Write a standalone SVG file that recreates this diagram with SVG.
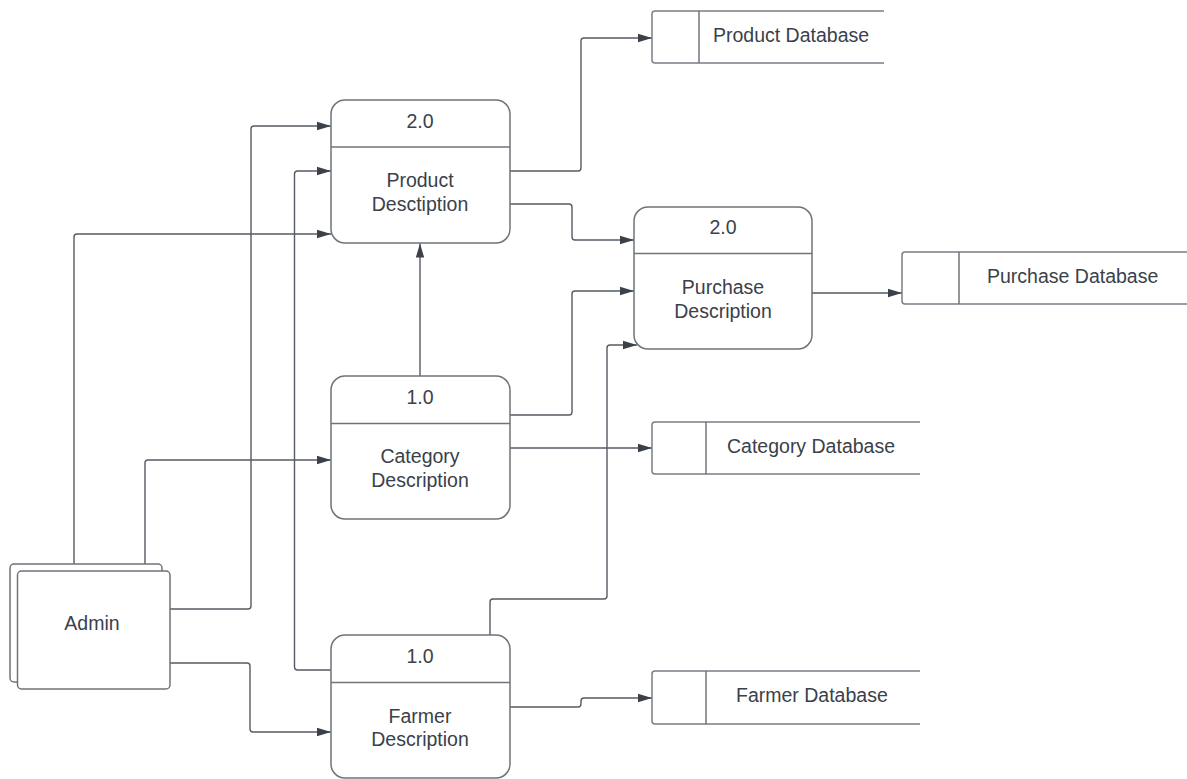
<svg xmlns="http://www.w3.org/2000/svg" width="1187" height="779" viewBox="0 0 1187 779">
<defs>
<style>
.box{fill:#ffffff;stroke:#6f737a;stroke-width:1.5}
.div{stroke:#6f737a;stroke-width:1.5;fill:none}
.db{fill:#ffffff;stroke:#7a7e85;stroke-width:1.5}
.conn{fill:none;stroke:#555b64;stroke-width:1.4}
.t{font-family:"Liberation Sans",Arial,sans-serif;font-size:19.5px;fill:#3a414a}
.c{text-anchor:middle}
</style>
<marker id="arr" viewBox="0 0 14 10" refX="14" refY="5" markerWidth="14" markerHeight="10" markerUnits="userSpaceOnUse" orient="auto">
<path d="M0,0.8 L14,5 L0,9.2 Z" fill="#3a414a"/>
</marker>
</defs>
<rect width="1187" height="779" fill="#ffffff"/>

<g id="connectors">
<path class="conn" d="M170,609 H248 Q251,609 251,606 V129 Q251,126 254,126 H331" marker-end="url(#arr)"/>
<path class="conn" d="M74,564 V237 Q74,234 77,234 H331" marker-end="url(#arr)"/>
<path class="conn" d="M145,564 V463 Q145,460 148,460 H331" marker-end="url(#arr)"/>
<path class="conn" d="M170,663 H247 Q250,663 250,666 V729 Q250,732 253,732 H331" marker-end="url(#arr)"/>
<path class="conn" d="M331,670 H297.5 Q294.5,670 294.5,667 V174 Q294.5,171 297.5,171 H331" marker-end="url(#arr)"/>
<path class="conn" d="M420,376 V243.5" marker-end="url(#arr)"/>
<path class="conn" d="M510,171 H578 Q581,171 581,168 V41 Q581,38 584,38 H652" marker-end="url(#arr)"/>
<path class="conn" d="M510,204 H569 Q572,204 572,207 V237 Q572,240 575,240 H634" marker-end="url(#arr)"/>
<path class="conn" d="M510,415 H569 Q572,415 572,412 V294 Q572,291 575,291 H634" marker-end="url(#arr)"/>
<path class="conn" d="M490,635 V602 Q490,599 493,599 H604 Q607,599 607,596 V348 Q607,345 610,345 H637" marker-end="url(#arr)"/>
<path class="conn" d="M510,448 H652" marker-end="url(#arr)"/>
<path class="conn" d="M812,293 H902" marker-end="url(#arr)"/>
<path class="conn" d="M510,707 H578 Q581,707 581,704 V701 Q581,698 584,698 H652" marker-end="url(#arr)"/>
</g>

<g id="admin">
<rect class="box" x="10" y="564" width="152" height="118" rx="4"/>
<rect class="box" x="17.5" y="571" width="152.5" height="118" rx="4"/>
<text class="t c" x="92" y="630">Admin</text>
</g>

<g id="product-description">
<rect class="box" x="331" y="100" width="179" height="143" rx="14"/>
<line class="div" x1="331" y1="147" x2="510" y2="147"/>
<text class="t c" x="420" y="128">2.0</text>
<text class="t c" x="420" y="187">Product</text>
<text class="t c" x="420" y="211">Desctiption</text>
</g>

<g id="purchase-description">
<rect class="box" x="634" y="207" width="178" height="142" rx="14"/>
<line class="div" x1="634" y1="253.5" x2="812" y2="253.5"/>
<text class="t c" x="723" y="234">2.0</text>
<text class="t c" x="723" y="294">Purchase</text>
<text class="t c" x="723" y="318">Description</text>
</g>

<g id="category-description">
<rect class="box" x="331" y="376" width="179" height="143" rx="14"/>
<line class="div" x1="331" y1="423.5" x2="510" y2="423.5"/>
<text class="t c" x="420" y="404">1.0</text>
<text class="t c" x="420" y="463">Category</text>
<text class="t c" x="420" y="487">Description</text>
</g>

<g id="farmer-description">
<rect class="box" x="331" y="635" width="179" height="143" rx="14"/>
<line class="div" x1="331" y1="682.5" x2="510" y2="682.5"/>
<text class="t c" x="420" y="663">1.0</text>
<text class="t c" x="420" y="723">Farmer</text>
<text class="t c" x="420" y="746">Description</text>
</g>

<g id="product-database">
<path class="db" fill="none" d="M884,11 H655 Q652,11 652,14 V60 Q652,63 655,63 H884"/>
<line class="div" x1="699" y1="11" x2="699" y2="63"/>
<text class="t" x="713" y="42">Product Database</text>
</g>

<g id="purchase-database">
<path class="db" d="M1187,252 H905 Q902,252 902,255 V301 Q902,304 905,304 H1187"/>
<line class="div" x1="959" y1="252" x2="959" y2="304"/>
<text class="t" x="987" y="283">Purchase Database</text>
</g>

<g id="category-database">
<path class="db" d="M920,422 H655 Q652,422 652,425 V471 Q652,474 655,474 H920"/>
<line class="div" x1="706" y1="422" x2="706" y2="474"/>
<text class="t" x="727" y="453">Category Database</text>
</g>

<g id="farmer-database">
<path class="db" d="M920,671 H655 Q652,671 652,674 V721 Q652,724 655,724 H920"/>
<line class="div" x1="706" y1="671" x2="706" y2="724"/>
<text class="t" x="736" y="702">Farmer Database</text>
</g>
</svg>
